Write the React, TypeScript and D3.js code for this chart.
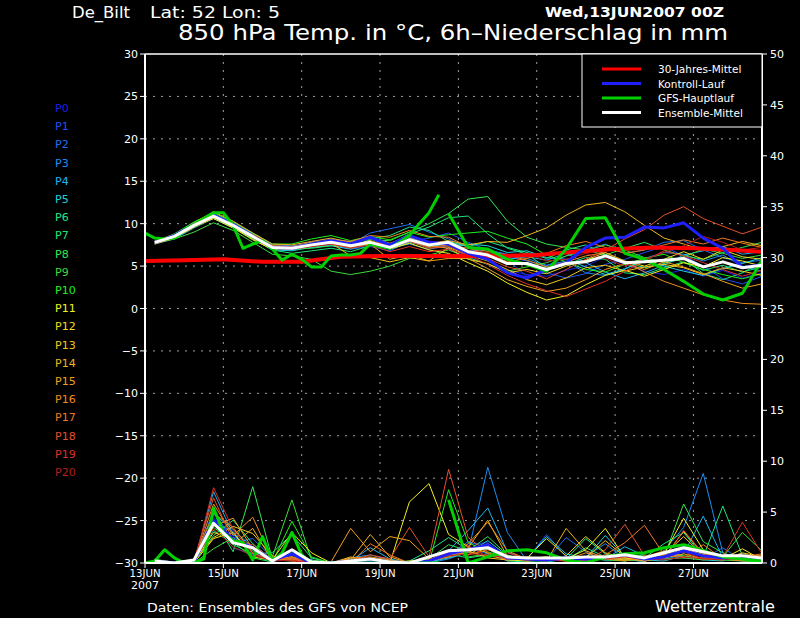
import React from "react";
import * as d3 from "d3";

const memberDays = [0.25, 0.75, 1.25, 1.75, 2.25, 2.75, 3.25, 3.75, 4.25, 4.75, 5.25, 5.75, 6.25, 6.75, 7.25, 7.75, 8.25, 8.75, 9.25, 9.75, 10.25, 10.75, 11.25, 11.75, 12.25, 12.75, 13.25, 13.75, 14.25, 14.75, 15.25, 15.75];
const gfsHiDays = [0, 0.25, 0.5, 0.75, 1, 1.25, 1.5, 1.75, 2, 2.25, 2.5, 2.75, 3, 3.25, 3.5, 3.75, 4, 4.25, 4.5, 4.75, 5, 5.25, 5.5, 5.75, 6, 6.25, 6.5, 6.75, 7, 7.25, 7.5];
const gfsLoDays = [7.75, 8.25, 8.75, 9.25, 9.75, 10.25, 10.75, 11.25, 11.75, 12.25, 12.75, 13.25, 13.75, 14.25, 14.75, 15.25, 15.75];
const climDays = [0, 1, 2, 3, 4, 5, 6, 7, 8, 9, 10, 11, 12, 13, 14, 15, 15.75];

const memberNames = ["P0","P1","P2","P3","P4","P5","P6","P7","P8","P9","P10","P11","P12","P13","P14","P15","P16","P17","P18","P19","P20"];
const memberColors = ["#1e1ee6","#1e50f0","#1e6ef0","#1e8cf0","#1eb4f0","#1ed2dc","#1ee68c","#1ee678","#32e650","#3cdc3c","#1ef01e","#f0f01e","#f0dc1e","#f0c81e","#f0b41e","#f0a01e","#f08c1e","#f0781e","#e65028","#dc3228","#b41e1e"];

const memberTemps = [
  [7.6, 8.4, 9.9, 11.1, 10.0, 8.7, 7.0, 7.3, 7.9, 8.2, 7.9, 8.4, 7.6, 8.6, 7.9, 7.0, 6.1, 5.2, 4.5, 4.0, 3.8, 4.5, 5.0, 6.1, 5.2, 4.4, 4.0, 4.6, 3.8, 4.5, 3.6, 4.2],
  [7.9, 8.6, 9.7, 10.7, 9.6, 8.3, 7.4, 7.0, 7.2, 7.5, 7.0, 7.3, 6.8, 7.9, 8.3, 8.9, 7.8, 6.9, 5.7, 3.8, 4.2, 3.6, 4.1, 5.2, 5.8, 6.6, 7.3, 6.2, 5.0, 3.5, 2.9, 3.8],
  [7.7, 8.3, 9.6, 10.8, 9.9, 8.6, 7.3, 7.2, 7.7, 8.0, 7.6, 8.9, 9.4, 9.9, 9.0, 8.2, 7.2, 7.0, 6.1, 5.6, 5.0, 6.2, 6.9, 7.6, 6.5, 6.9, 7.8, 8.0, 6.9, 6.0, 5.4, 5.7],
  [7.8, 8.5, 10.0, 11.2, 10.1, 8.8, 7.5, 7.4, 7.6, 7.9, 7.7, 8.3, 7.1, 7.6, 7.0, 7.4, 6.8, 6.9, 6.4, 5.9, 5.1, 5.6, 4.2, 3.9, 4.6, 5.9, 6.6, 6.4, 5.6, 6.3, 5.0, 4.4],
  [7.9, 8.6, 9.9, 10.9, 9.7, 8.4, 7.1, 6.9, 7.4, 7.9, 7.5, 7.7, 7.4, 8.3, 7.6, 7.5, 7.4, 6.2, 5.8, 6.1, 5.7, 6.5, 5.4, 4.3, 3.5, 4.2, 5.1, 6.3, 6.8, 7.3, 6.4, 6.7],
  [7.6, 8.2, 9.5, 10.6, 9.5, 8.2, 6.9, 6.8, 7.2, 7.4, 7.0, 7.6, 7.0, 7.8, 7.3, 7.6, 7.6, 7.4, 6.6, 6.8, 6.0, 5.8, 4.9, 4.0, 4.7, 5.6, 5.0, 4.4, 3.9, 4.7, 5.3, 6.0],
  [7.8, 8.7, 10.1, 11.0, 9.9, 8.4, 7.1, 7.0, 7.6, 8.1, 7.6, 8.2, 8.6, 9.6, 9.2, 7.9, 7.3, 7.9, 7.2, 6.6, 5.9, 6.9, 7.5, 6.4, 5.5, 4.8, 5.3, 5.9, 4.1, 3.4, 4.2, 5.5],
  [8.0, 8.4, 9.7, 10.8, 9.6, 8.2, 6.9, 6.5, 6.8, 7.1, 6.7, 7.4, 7.6, 8.8, 9.6, 10.7, 10.9, 8.8, 7.1, 6.4, 4.8, 5.2, 6.0, 5.8, 4.2, 4.0, 4.8, 5.5, 4.5, 5.1, 4.3, 4.9],
  [7.7, 8.3, 9.6, 10.7, 9.8, 8.6, 7.3, 7.0, 7.1, 7.4, 7.3, 8.1, 8.0, 9.0, 10.0, 11.2, 12.9, 13.2, 10.3, 8.4, 7.6, 7.2, 6.9, 6.3, 7.1, 7.8, 6.9, 6.2, 5.8, 6.6, 7.2, 7.8],
  [7.7, 8.2, 9.0, 10.1, 9.2, 7.8, 6.4, 6.2, 5.8, 4.4, 4.0, 4.4, 5.0, 5.9, 6.3, 6.9, 6.0, 5.2, 4.4, 4.9, 5.4, 6.2, 6.8, 7.5, 6.9, 6.0, 5.4, 6.1, 7.0, 6.5, 5.9, 6.3],
  [7.9, 8.8, 10.2, 11.3, 10.2, 8.9, 7.6, 7.6, 8.2, 8.6, 8.0, 8.5, 8.1, 9.0, 8.4, 8.7, 8.9, 9.1, 8.3, 7.6, 6.3, 5.5, 4.6, 4.3, 5.2, 5.9, 6.4, 5.4, 4.6, 4.0, 3.5, 4.1],
  [7.8, 8.5, 9.7, 10.6, 9.5, 8.1, 7.0, 7.1, 7.4, 7.6, 7.2, 7.9, 7.0, 7.7, 6.9, 6.5, 5.4, 4.4, 3.0, 1.9, 1.0, 1.5, 2.8, 3.9, 4.5, 3.8, 4.6, 5.4, 4.9, 6.0, 5.6, 5.0],
  [7.7, 8.4, 9.8, 10.8, 9.6, 8.3, 7.0, 7.2, 7.8, 7.9, 7.5, 8.0, 7.3, 8.0, 7.4, 7.1, 5.8, 5.3, 4.2, 4.6, 4.1, 5.0, 5.7, 6.6, 5.6, 5.0, 5.8, 6.7, 5.8, 6.9, 6.1, 5.8],
  [7.9, 8.7, 10.0, 11.0, 9.9, 8.6, 7.4, 7.2, 7.6, 7.7, 6.2, 6.0, 5.5, 6.0, 5.6, 7.2, 6.3, 5.6, 4.6, 3.4, 2.8, 3.6, 4.8, 5.1, 4.4, 4.9, 5.2, 4.8, 4.0, 4.8, 4.4, 3.9],
  [7.8, 8.6, 10.1, 11.4, 10.3, 8.9, 7.6, 7.5, 7.9, 8.3, 7.8, 8.4, 7.7, 8.4, 7.7, 8.0, 7.5, 7.9, 7.8, 8.6, 9.5, 11.0, 12.2, 12.5, 11.4, 9.8, 8.3, 7.6, 6.9, 7.3, 7.9, 7.4],
  [7.6, 8.3, 9.6, 10.7, 9.7, 8.5, 7.2, 7.0, 7.3, 7.6, 7.3, 7.6, 5.8, 6.3, 5.6, 5.9, 5.9, 4.7, 3.4, 2.6, 2.0, 2.4, 3.4, 4.6, 5.3, 4.6, 5.5, 4.9, 4.1, 3.2, 2.4, 2.9],
  [7.8, 8.5, 9.9, 11.1, 10.0, 8.6, 7.3, 7.3, 7.7, 8.1, 7.9, 8.6, 8.4, 9.2, 8.5, 8.4, 7.3, 6.7, 6.3, 5.7, 4.9, 5.5, 6.2, 6.6, 5.5, 4.3, 3.2, 2.4, 1.6, 1.0, 0.6, 0.5],
  [7.7, 8.4, 9.7, 10.8, 9.8, 8.4, 7.1, 7.1, 7.4, 7.8, 7.4, 7.9, 7.5, 8.1, 7.2, 7.5, 7.1, 6.5, 5.5, 5.9, 6.5, 7.4, 7.9, 7.2, 6.5, 6.9, 7.5, 8.1, 7.6, 8.3, 7.7, 7.2],
  [7.9, 8.6, 9.8, 10.9, 9.9, 8.7, 7.4, 7.3, 7.5, 7.7, 7.2, 7.7, 7.2, 7.9, 7.1, 7.3, 6.4, 5.9, 4.9, 4.4, 3.5, 4.6, 5.8, 6.9, 8.2, 9.3, 11.0, 12.0, 10.6, 9.7, 8.8, 9.6],
  [7.8, 8.5, 9.8, 10.9, 9.8, 8.5, 7.2, 7.0, 7.4, 7.6, 7.1, 7.5, 6.7, 7.3, 6.7, 7.0, 6.3, 5.2, 3.9, 2.9, 2.1, 1.4, 2.3, 3.2, 4.4, 5.6, 6.8, 6.2, 5.4, 4.6, 3.8, 4.5],
  [7.9, 8.7, 10.0, 11.0, 9.9, 8.4, 7.1, 7.0, 7.3, 7.6, 7.3, 7.9, 7.4, 8.2, 7.6, 7.7, 6.8, 6.6, 6.0, 6.5, 5.6, 5.8, 6.5, 5.9, 5.0, 5.8, 6.6, 7.4, 8.5, 7.8, 6.9, 7.2],
];

const memberPrecip = [
  [0.3, 0, 0.1, 4.5, 2.6, 1.2, 0.2, 0.8, 0, 0, 0, 0.2, 0, 0, 0.3, 1.0, 1.8, 2.0, 0.5, 0.3, 0.2, 0.4, 0.6, 0.3, 0.5, 0.2, 0.8, 1.6, 0.9, 0.4, 0.6, 0.2],
  [0, 0, 0.2, 3.8, 1.5, 0.8, 0, 1.2, 0.3, 0, 0, 0, 0.2, 0, 0.1, 0.6, 1.4, 0.9, 0.2, 0.4, 2.8, 0.6, 0.1, 0.5, 0.8, 0.3, 0.4, 1.2, 0.6, 0.3, 0.2, 0.4],
  [0.2, 0, 0, 5.2, 2.0, 2.4, 0.5, 0.4, 0, 0, 0.3, 0.5, 0, 0, 0, 0.8, 2.1, 1.5, 0.3, 0.6, 0.3, 2.5, 1.1, 0.2, 0.3, 0.6, 1.0, 0.5, 0.4, 1.5, 0.2, 0.1],
  [0, 0.1, 0.2, 4.0, 3.1, 0.6, 0.3, 0.9, 0, 0, 0.5, 0.8, 0.3, 0, 0, 0.4, 1.1, 9.4, 3.0, 0.2, 0.4, 0.3, 0.6, 1.9, 0.4, 0.1, 1.2, 3.5, 8.8, 1.0, 0.3, 0.2],
  [0.1, 0, 0, 7.0, 2.8, 1.0, 0.2, 0.5, 0, 0.1, 0.2, 1.5, 0.4, 0, 0.2, 1.2, 3.2, 5.4, 1.1, 0.3, 0.2, 0.5, 0.2, 0.4, 1.6, 0.7, 0.3, 0.9, 4.6, 0.5, 0.4, 0.8],
  [0.3, 0.1, 0.3, 4.8, 3.3, 1.5, 0.4, 0.6, 0.2, 0, 0, 0.3, 0.1, 0, 0.1, 0.5, 1.0, 2.2, 0.7, 0.4, 2.6, 0.9, 0.5, 2.7, 0.6, 0.3, 0.2, 0.7, 0.3, 0.2, 0.9, 0.5],
  [0, 0, 0.2, 3.2, 1.8, 0.9, 1.0, 2.8, 0.5, 0, 0, 0, 0, 0.2, 1.2, 2.5, 1.3, 1.4, 0.2, 0.1, 0.1, 0.4, 2.4, 0.9, 0.3, 0.2, 0.7, 1.3, 0.8, 0.3, 0.5, 0.6],
  [0.2, 0, 0, 2.7, 4.2, 1.9, 0.3, 0.2, 0, 0, 0, 0.2, 0, 0, 0.3, 0.9, 0.5, 0.8, 0.6, 0.3, 0.2, 0.3, 1.5, 0.6, 0.2, 0.5, 1.9, 3.0, 0.6, 5.6, 0.7, 0.4],
  [0.1, 0, 0.1, 4.3, 1.1, 7.5, 0.4, 1.0, 0, 0, 0, 0, 0.1, 0, 0.4, 1.8, 1.2, 2.6, 0.8, 0.2, 0.4, 0.6, 0.3, 0.5, 0.3, 0.4, 0.6, 5.8, 2.1, 1.0, 0.3, 0.2],
  [0.4, 0, 0, 1.4, 2.5, 1.2, 0.6, 6.2, 0.3, 0, 0, 0, 0, 0, 0.2, 1.3, 0.6, 0.9, 0.3, 0.4, 0.2, 0.5, 0.3, 0.6, 0.5, 0.8, 0.4, 0.5, 0.3, 0.6, 3.0, 1.2],
  [0, 0, 0.2, 3.5, 2.1, 0.5, 0.1, 4.1, 0.6, 0, 0, 0.1, 0, 0, 0, 7.2, 2.0, 1.1, 0.5, 0.3, 0.6, 0.2, 0.4, 0.3, 0.2, 0.6, 1.1, 0.7, 0.4, 0.3, 0.2, 0.1],
  [0, 0, 0, 2.4, 3.0, 0.6, 0.3, 3.0, 1.0, 0, 0, 0, 0, 6.0, 7.8, 2.8, 1.6, 1.0, 0.3, 0.2, 0.3, 0.4, 1.3, 3.4, 0.5, 0.3, 0.9, 4.4, 1.3, 0.4, 1.4, 0.3],
  [0.2, 0, 0.1, 3.0, 2.4, 1.6, 0.3, 0.6, 0, 0, 0.4, 0.3, 0, 0.2, 0.3, 1.0, 0.8, 1.9, 0.4, 0.5, 2.4, 0.7, 2.6, 1.0, 0.5, 0.2, 0.6, 3.1, 0.9, 0.6, 0.5, 0.7],
  [0.1, 0, 0.3, 2.5, 3.6, 2.9, 0.7, 0.3, 0, 0, 0.6, 0.2, 0, 0, 0.2, 0.7, 1.2, 0.5, 0.3, 0.6, 0.4, 0.2, 0.5, 2.2, 0.6, 0.5, 0.8, 2.6, 0.7, 0.3, 1.0, 0.6],
  [0, 0, 0.2, 4.1, 1.8, 3.4, 0.2, 0.5, 0, 0, 0.3, 2.8, 0.6, 0, 0.1, 0.8, 1.5, 4.2, 0.6, 0.3, 0.2, 3.4, 1.2, 0.5, 0.3, 0.4, 0.6, 1.4, 0.8, 0.5, 0.3, 0.8],
  [0.3, 0, 0, 3.6, 4.4, 1.4, 0.5, 0.2, 0, 0.1, 3.4, 1.1, 2.6, 2.2, 0.4, 0.6, 1.1, 0.7, 0.4, 0.5, 0.3, 0.4, 0.5, 0.6, 0.4, 0.2, 0.5, 0.9, 0.4, 0.3, 0.6, 0.4],
  [0.2, 0, 0.1, 5.8, 2.7, 4.5, 0.3, 0.4, 0, 0, 0.5, 0.6, 0.3, 0, 0.2, 0.6, 1.9, 4.0, 1.2, 0.4, 0.6, 0.3, 1.0, 0.4, 0.2, 0.6, 1.2, 0.6, 0.5, 0.4, 0.2, 0.3],
  [0, 0, 0.2, 4.9, 3.5, 1.0, 0.2, 0.6, 0, 0, 0, 1.9, 0.8, 0, 0.3, 1.1, 0.8, 1.3, 0.7, 0.2, 0.5, 0.3, 0.4, 0.8, 2.0, 3.7, 0.8, 0.5, 1.8, 0.4, 0.6, 0.9],
  [0.1, 0, 0.3, 6.4, 2.2, 1.8, 0.4, 0.5, 0, 0, 0.2, 0.8, 0.4, 3.5, 0.6, 9.2, 2.5, 1.0, 0.3, 0.6, 0.4, 0.5, 0.2, 1.3, 3.8, 0.7, 0.4, 3.2, 0.9, 0.5, 0.8, 0.6],
  [0.2, 0, 0, 7.4, 3.3, 0.9, 0.2, 0.3, 0, 0, 0, 0.2, 0, 0, 0.2, 0.9, 1.7, 0.6, 1.0, 0.4, 0.3, 0.2, 0.6, 0.4, 0.6, 0.3, 0.7, 1.1, 0.4, 0.6, 4.0, 0.9],
  [0, 0, 0.1, 3.4, 1.6, 0.7, 0.3, 0.2, 0, 0, 0.2, 0.4, 0.1, 0, 0.2, 0.7, 0.9, 0.8, 0.5, 0.3, 0.2, 0.4, 0.3, 0.5, 0.8, 0.4, 0.3, 0.6, 0.4, 0.3, 0.5, 0.7],
];

const controlTemp = [7.8, 8.6, 9.9, 11.0, 9.9, 8.5, 7.2, 7.1, 7.6, 8.0, 7.6, 8.4, 7.5, 8.6, 7.8, 7.6, 6.5, 5.8, 4.2, 3.6, 4.6, 5.4, 7.2, 8.3, 8.4, 9.6, 9.5, 10.1, 8.3, 7.1, 4.8, 5.2];
const controlPrecip = [0.2, 0, 0.1, 4.2, 2.3, 1.5, 0.3, 0.9, 0, 0, 0.2, 0.3, 0, 0, 0.2, 0.9, 1.3, 1.8, 0.5, 0.4, 0.3, 0.5, 0.4, 0.6, 0.8, 0.4, 0.6, 1.2, 0.7, 0.5, 0.6, 0.4];
const ensMeanTemp = [7.8, 8.5, 9.8, 10.9, 9.8, 8.5, 7.2, 7.1, 7.5, 7.8, 7.4, 7.8, 7.2, 8.1, 7.5, 7.8, 6.7, 6.3, 5.3, 5.3, 4.6, 5.3, 5.5, 6.2, 5.4, 5.5, 5.7, 5.9, 4.9, 5.5, 4.8, 5.1];
const ensMeanPrecip = [0.2, 0, 0.3, 3.9, 2.0, 1.5, 0.2, 1.3, 0.1, 0, 0.2, 0.4, 0.1, 0, 0.6, 1.2, 1.3, 1.5, 0.6, 0.5, 0.5, 0.5, 0.6, 0.6, 0.8, 0.5, 1.0, 1.5, 1.1, 0.7, 0.7, 0.5];
const gfsHiTemp = [8.9, 8.3, 8.2, 8.3, 9.2, 9.9, 10.6, 11.3, 11.3, 9.8, 7.1, 7.6, 8.0, 7.0, 5.7, 6.4, 5.8, 4.9, 4.9, 6.2, 6.3, 6.3, 6.5, 7.6, 7.3, 7.1, 7.8, 8.6, 10.0, 11.3, 13.4];
const gfsHiPrecip = [0, 0.2, 1.3, 0.5, 0, 0, 0.4, 5.4, 3.0, 2.2, 2.0, 0.3, 2.6, 0.2, 1.0, 3.0, 0.8, 0, 0, 0, 0, 0, 0, 0, 0, 0, 0, 0, 0, 0, 0];
const gfsLoTemp = [11.2, 7.2, 7.0, 5.8, 5.2, 4.4, 7.0, 10.6, 10.7, 6.5, 5.8, 4.6, 3.2, 1.7, 1.0, 1.8, 5.7];
const gfsLoPrecip = [6.2, 0, 0.6, 1.2, 1.3, 1.0, 0.3, 0, 0.6, 0.9, 1.0, 1.5, 1.8, 1.2, 0.6, 0.4, 0.2];
const climTemp = [5.6, 5.7, 5.8, 5.5, 5.5, 6.1, 6.2, 6.2, 6.2, 6.2, 6.3, 6.7, 7.0, 7.2, 7.1, 6.9, 6.7];

const tempTicks = [-30, -25, -20, -15, -10, -5, 0, 5, 10, 15, 20, 25, 30];
const precipTicks = [0, 5, 10, 15, 20, 25, 30, 35, 40, 45, 50];
const dateTicks = [0, 2, 4, 6, 8, 10, 12, 14];
const dateLabels = ["13JUN", "15JUN", "17JUN", "19JUN", "21JUN", "23JUN", "25JUN", "27JUN"];
const legendNames = ["30-Jahres-Mittel", "Kontroll-Lauf", "GFS-Hauptlauf", "Ensemble-Mittel"];
const legendColors = ["#ff0000", "#2020ff", "#00d000", "#ffffff"];

const L = 145, R = 762, T = 54, B = 563;
const FONT = "DejaVu Sans, sans-serif";

export default function App() {
  const x = d3.scaleLinear().domain([0, 15.75]).range([L, R]);
  const yT = d3.scaleLinear().domain([-30, 30]).range([B, T]);
  const yP = d3.scaleLinear().domain([0, 50]).range([B, T]);
  const lineT = d3.line<[number, number]>().x((d) => x(d[0])).y((d) => yT(d[1]));
  const lineP = d3.line<[number, number]>().x((d) => x(d[0])).y((d) => yP(d[1]));
  const zip = (a: number[], b: number[]) => a.map((v, i) => [v, b[i]] as [number, number]);

  return (
    <svg width={800} height={618} style={{ position: "absolute", left: 0, top: 0, background: "#000" }} fontFamily={FONT}>
      <rect x={0} y={0} width={800} height={618} fill="#000" />
      <defs>
        <clipPath id="plot"><rect x={L} y={T} width={R - L} height={B - T} /></clipPath>
      </defs>
      {tempTicks.filter((t) => t > -30 && t < 30).map((t) => (
        <line key={"gy" + t} x1={L} x2={R} y1={yT(t)} y2={yT(t)} stroke="#a0a0a0" strokeWidth={1} strokeDasharray="2,6" />
      ))}
      {dateTicks.filter((d) => d > 0).map((d) => (
        <line key={"gx" + d} x1={x(d)} x2={x(d)} y1={T} y2={B} stroke="#a0a0a0" strokeWidth={1} strokeDasharray="2,6" />
      ))}
      <g clipPath="url(#plot)" fill="none" strokeLinejoin="round">
        {memberPrecip.map((p, i) => (
          <path key={"mp" + i} d={lineP(zip(memberDays, p)) || ""} stroke={memberColors[i]} strokeWidth={1} />
        ))}
        {memberTemps.map((p, i) => (
          <path key={"mt" + i} d={lineT(zip(memberDays, p)) || ""} stroke={memberColors[i]} strokeWidth={1} />
        ))}
        <path d={lineT(zip(climDays, climTemp)) || ""} stroke="#ff0000" strokeWidth={4} />
        <path d={lineT(zip(memberDays, controlTemp)) || ""} stroke="#2020ff" strokeWidth={3} />
        <path d={lineP(zip(memberDays, controlPrecip)) || ""} stroke="#2020ff" strokeWidth={3} />
        <path d={lineT(zip(gfsHiDays, gfsHiTemp)) || ""} stroke="#00d000" strokeWidth={3} />
        <path d={lineT(zip(gfsLoDays, gfsLoTemp)) || ""} stroke="#00d000" strokeWidth={3} />
        <path d={lineP(zip(gfsHiDays, gfsHiPrecip)) || ""} stroke="#00d000" strokeWidth={3} />
        <path d={lineP(zip(gfsLoDays, gfsLoPrecip)) || ""} stroke="#00d000" strokeWidth={3} />
        <path d={lineT(zip(memberDays, ensMeanTemp)) || ""} stroke="#ffffff" strokeWidth={3} />
        <path d={lineP(zip(memberDays, ensMeanPrecip)) || ""} stroke="#ffffff" strokeWidth={3} />
      </g>
      <line x1={L} x2={R} y1={T} y2={T} stroke="#fff" strokeWidth={1.5} />
      <line x1={L} x2={R} y1={B} y2={B} stroke="#fff" strokeWidth={2} />
      <line x1={L} x2={L} y1={T} y2={B} stroke="#fff" strokeWidth={2} />
      <line x1={R} x2={R} y1={T} y2={B} stroke="#fff" strokeWidth={2} />
      {tempTicks.map((t) => (
        <g key={"lt" + t}>
          <line x1={L - 5} x2={L} y1={yT(t)} y2={yT(t)} stroke="#fff" strokeWidth={1} />
          <text x={L - 7} y={yT(t) + 4} fill="#fff" fontSize={11} textAnchor="end">{t < 0 ? "\u2212" + Math.abs(t) : String(t)}</text>
        </g>
      ))}
      {precipTicks.map((t) => (
        <g key={"rt" + t}>
          <line x1={R} x2={R + 5} y1={yP(t)} y2={yP(t)} stroke="#fff" strokeWidth={1} />
          <text x={R + 8} y={yP(t) + 4} fill="#fff" fontSize={11} textAnchor="start">{String(t)}</text>
        </g>
      ))}
      {dateTicks.map((d, i) => (
        <g key={"bt" + d}>
          <line x1={x(d)} x2={x(d)} y1={B} y2={B + 5} stroke="#fff" strokeWidth={1} />
          <text x={x(d)} y={B + 14} fill="#fff" fontSize={11} textAnchor="middle" textLength={31} lengthAdjust="spacingAndGlyphs">{dateLabels[i]}</text>
        </g>
      ))}
      <text x={x(0)} y={B + 26} fill="#fff" fontSize={11} textAnchor="middle">2007</text>
      {memberNames.map((n, i) => (
        <text key={n} x={55} y={112 + i * 18.2} fill={memberColors[i]} fontSize={11}>{n}</text>
      ))}
      <rect x={582} y={T} width={R - 582} height={73} fill="#000" stroke="#fff" strokeWidth={1} />
      {legendNames.map((n, i) => (
        <g key={n}>
          <line x1={602} x2={641} y1={69 + i * 14.5} y2={69 + i * 14.5} stroke={legendColors[i]} strokeWidth={3} />
          <text x={658} y={73 + i * 14.5} fill="#fff" fontSize={10.5}>{n}</text>
        </g>
      ))}
      <text x={72} y={18} fill="#fff" fontSize={15} textLength={58} lengthAdjust="spacingAndGlyphs">De_Bilt</text>
      <text x={150} y={18} fill="#fff" fontSize={15} textLength={130} lengthAdjust="spacingAndGlyphs">Lat: 52 Lon: 5</text>
      <text x={545} y={17} fill="#fff" fontSize={14} fontWeight="bold" textLength={179} lengthAdjust="spacingAndGlyphs">Wed,13JUN2007 00Z</text>
      <text x={178} y={40} fill="#fff" fontSize={22} textLength={550} lengthAdjust="spacingAndGlyphs">850 hPa Temp. in °C, 6h–Niederschlag in mm</text>
      <text x={147} y={612} fill="#fff" fontSize={12} textLength={261} lengthAdjust="spacingAndGlyphs">Daten: Ensembles des GFS von NCEP</text>
      <text x={655} y={612} fill="#fff" fontSize={15} textLength={120} lengthAdjust="spacingAndGlyphs">Wetterzentrale</text>
    </svg>
  );
}
